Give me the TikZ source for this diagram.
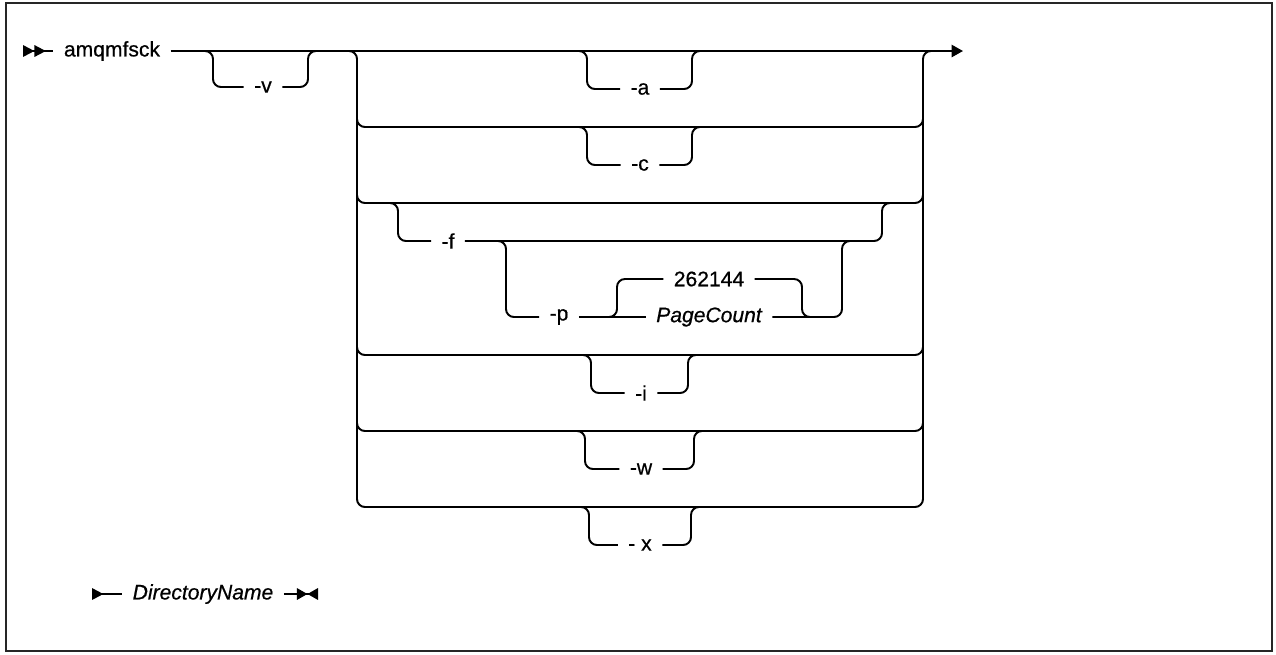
\documentclass[tikz,border=0pt]{standalone}
\usepackage{fontspec}
\setmainfont{Liberation Sans}[FakeBold=0.6]
\usetikzlibrary{arrows.meta}

\begin{document}
\begin{tikzpicture}[x=0.02cm,y=-0.02cm,
    rail/.style={line width=1.1pt,rounded corners=4.5pt},
    word/.style={font=\fontsize{12}{14}\selectfont,inner sep=1pt,outer sep=5pt},
    var/.style={word,font=\fontsize{12}{14}\selectfont\itshape}]

% Frame
\useasboundingbox (0,0) rectangle (1276,654);
\draw[line width=1.1pt,black!85] (6,3) rectangle (1272,651);

% Command
\coordinate (start) at (23,51);
\node[word] (cmd) at (112,51) {amqmfsck};
\draw[rail,{Triangle[reversed,length=6.5pt,width=6.5pt]Triangle[reversed,length=6.5pt,width=6.5pt]}-]
    (start) -- (cmd.west);

% Main line
\coordinate (stop) at (963,51);
\draw[rail,-{Triangle[length=6.5pt,width=7pt]}] (cmd.east) -- (stop);

% -v
\node[word] (v) at (263,87) {-v};
\coordinate (v in) at (213,51);
\coordinate (v out) at (308,51);
\draw[rail] (v.west) -| (v in) -- ++(-12,0);
\draw[rail] (v.east) -| (v out) -- ++(12,0);

% Choice bracket
\coordinate (tl) at (357,51);
\coordinate (tr) at (923,51);
\coordinate (bl) at (357,507);
\draw[rail] (tl) ++(-12,0) -- (tl) -- (bl) -- (bl -| tr) -- (tr) -- ++(12,0);

\coordinate (row c) at (357,127);
\coordinate (row f) at (357,203);
\coordinate (row i) at (357,355);
\coordinate (row w) at (357,431);
\draw[rail] (row c) ++(0,-20) -- (row c) -- (row c -| tr) -- ++(0,-20);
\draw[rail] (row f) ++(0,-20) -- (row f) -- (row f -| tr) -- ++(0,-20);
\draw[rail] (row i) ++(0,-20) -- (row i) -- (row i -| tr) -- ++(0,-20);
\draw[rail] (row w) ++(0,-20) -- (row w) -- (row w -| tr) -- ++(0,-20);

% -a
\node[word] (a) at (640,89) {-a};
\coordinate (a in) at (587,51);
\coordinate (a out) at (692,51);
\draw[rail] (a.west) -| (a in) -- ++(-12,0);
\draw[rail] (a.east) -| (a out) -- ++(12,0);

% -c
\node[word] (c) at (640,165) {-c};
\coordinate (c in) at (587,127);
\coordinate (c out) at (692,127);
\draw[rail] (c.west) -| (c in) -- ++(-12,0);
\draw[rail] (c.east) -| (c out) -- ++(12,0);

% -f
\node[word] (f) at (448,241) {-f};
\coordinate (f in) at (398,203);
\coordinate (f out) at (882,203);
\draw[rail] (f.west) -| (f in) -- ++(-12,0);
\draw[rail] (f.east) -| (f out) -- ++(12,0);

% -p
\node[word] (p) at (559,317) {-p};
\coordinate (p in) at (506,241);
\coordinate (p out) at (842,241);
\draw[rail] (p.west) -| (p in) -- ++(-12,0);

\node[var] (pc) at (709,317) {PageCount};
\node[word] (dflt) at (709,279) {262144};
\draw[rail] (p.east) -- (pc.west);
\draw[rail] (pc.east) -| (p out) -- ++(12,0);
\coordinate (n in) at (617,317);
\coordinate (n out) at (802,317);
\draw[rail] (dflt.west) -| (n in) -- ++(-12,0);
\draw[rail] (dflt.east) -| (n out) -- ++(12,0);

% -i
\node[word] (i) at (641,393) {-i};
\coordinate (i in) at (591,355);
\coordinate (i out) at (688,355);
\draw[rail] (i.west) -| (i in) -- ++(-12,0);
\draw[rail] (i.east) -| (i out) -- ++(12,0);

% -w
\node[word] (w) at (641,469) {-w};
\coordinate (w in) at (585,431);
\coordinate (w out) at (694,431);
\draw[rail] (w.west) -| (w in) -- ++(-12,0);
\draw[rail] (w.east) -| (w out) -- ++(12,0);

% -x
\node[word] (x) at (640,545) {- x};
\coordinate (x in) at (589,507);
\coordinate (x out) at (691,507);
\draw[rail] (x.west) -| (x in) -- ++(-12,0);
\draw[rail] (x.east) -| (x out) -- ++(12,0);

% Directory
\coordinate (dir start) at (92,594);
\node[var] (dir) at (203,594) {DirectoryName};
\coordinate (dir end) at (318,594);
\draw[rail,{Triangle[reversed,length=6.5pt,width=6.5pt]}-] (dir start) -- (dir.west);
\draw[rail,-{Triangle[length=6pt,width=6.5pt]Triangle[reversed,length=6pt,width=6.5pt]}]
    (dir.east) -- (dir end);

\end{tikzpicture}
\end{document}
